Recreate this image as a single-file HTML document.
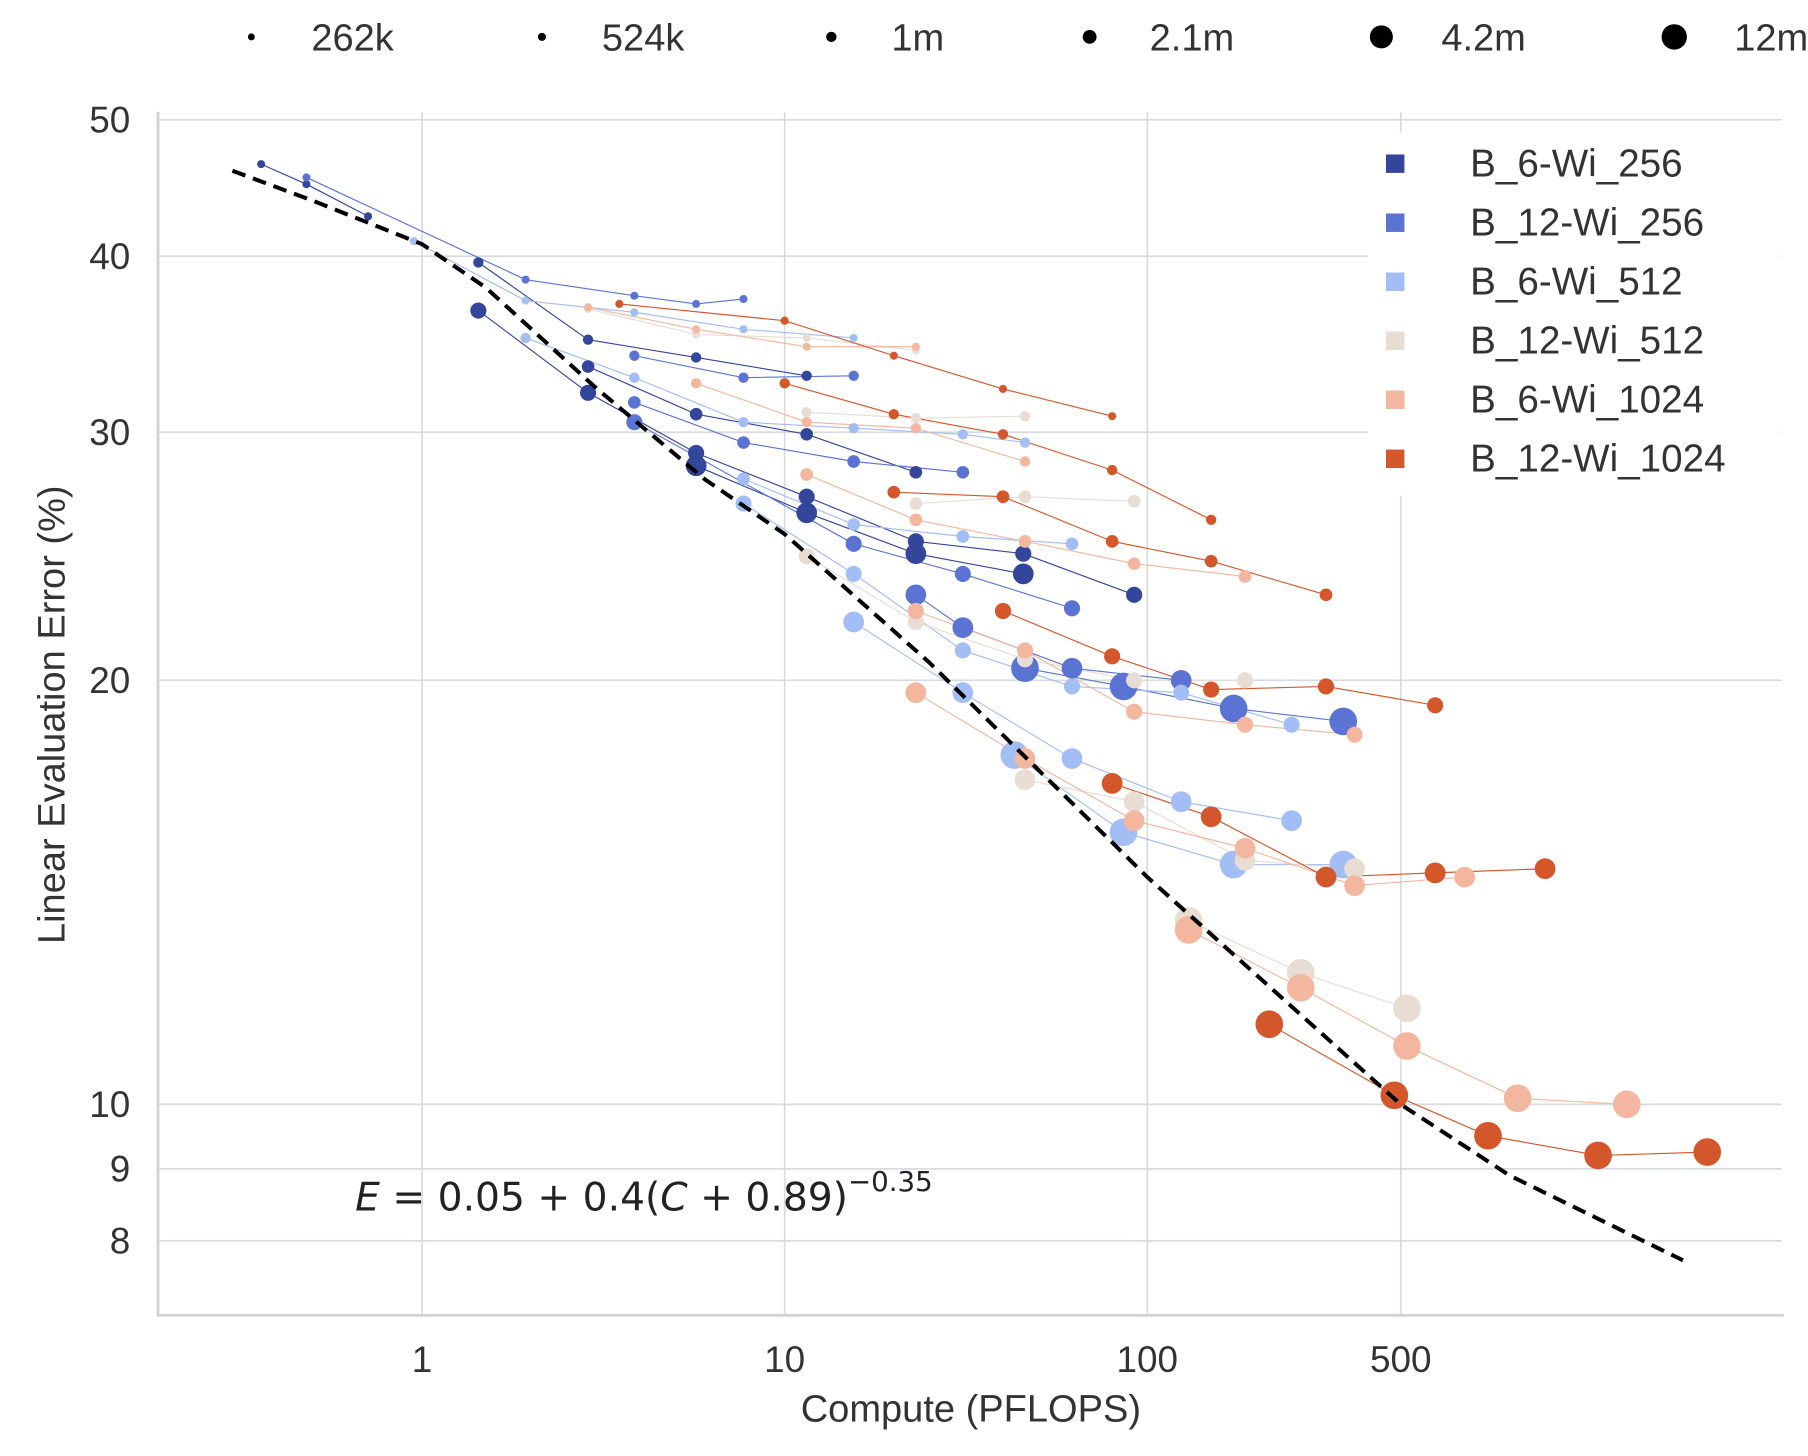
<!DOCTYPE html>
<html><head><meta charset="utf-8"><style>
html,body{margin:0;padding:0;background:#fff;}
svg{display:block;font-family:"Liberation Sans","DejaVu Sans",sans-serif;}
</style></head><body>
<svg id="chart" width="1808" height="1456" viewBox="0 0 1568 1263" preserveAspectRatio="none" xmlns="http://www.w3.org/2000/svg">
<g id="grid"></g>
<g id="marks"></g>
<g id="axes"></g>
<g id="legends"></g>
</svg>
<script>
const xTicks = [1, 10, 100, 500];
const xTickLabels = ["1", "10", "100", "500"];
const yTicks = [50, 40, 30, 20, 10, 9, 8];
const yTickLabels = ["50", "40", "30", "20", "10", "9", "8"];
const sizeLabels = ["262k", "524k", "1m", "2.1m", "4.2m", "12m"];
const seriesNames = ["B_6-Wi_256", "B_12-Wi_256", "B_6-Wi_512", "B_12-Wi_512", "B_6-Wi_1024", "B_12-Wi_1024"];
const seriesColors = ["#34469c", "#5b74d3", "#a3bdf5", "#e8ddd3", "#f2b79e", "#d4562b"];
const fitC = [0.30, 0.5, 1, 1.5, 3, 6, 10, 25, 100, 500, 1000, 3000];
const fitE = [46, 43.8, 40.8, 38, 32.3, 27.8, 25.4, 20.6, 14.5, 10.0, 8.9, 7.75];
// each line: [sizeIndex, [[compute, error], ...]]
const s0 = [
 [0, [[0.36,46.5],[0.48,45],[0.71,42.7]]],
 [1, [[1.43,39.6],[2.87,34.9],[5.7,33.9],[11.5,32.9]]],
 [2, [[2.87,33.4],[5.7,30.9],[11.5,29.9],[23,28.1]]],
 [3, [[1.43,36.6],[2.87,32],[5.7,29],[11.5,27],[23,25.1],[45.5,24.6],[92,23]]],
 [4, [[5.7,28.4],[11.5,26.3],[23,24.6],[45.5,23.8]]]
];
const s1 = [
 [0, [[0.48,45.5],[1.93,38.5],[3.85,37.5],[5.7,37],[7.7,37.3]]],
 [1, [[3.85,34],[7.7,32.8],[15.5,32.9]]],
 [2, [[3.85,31.5],[7.7,29.5],[15.5,28.6],[31,28.1]]],
 [3, [[3.85,30.5],[15.5,25],[31,23.8],[62,22.5]]],
 [4, [[23,23],[31,21.8],[62,20.4],[124,20]]],
 [5, [[46,20.4],[86,19.8],[173,19.1],[347,18.7]]]
];
const s2 = [
 [0, [[0.95,41],[1.93,37.2],[3.85,36.5],[7.7,35.5],[15.5,35]]],
 [1, [[1.93,35],[3.85,32.8],[7.7,30.5],[15.5,30.2],[31,29.9],[46,29.5]]],
 [2, [[7.7,27.8],[15.5,25.8],[31,25.3],[62,25]]],
 [3, [[7.7,26.7],[15.5,23.8],[31,21],[62,19.8],[124,19.6],[250,18.6]]],
 [4, [[15.5,22],[31,19.6],[62,17.6],[124,16.4],[250,15.9]]],
 [5, [[43,17.7],[86,15.6],[173,14.8],[347,14.8]]]
];
const s3 = [
 [0, [[2.87,36.7],[5.7,35.2],[11.5,35],[23,34.3]]],
 [1, [[11.5,31],[23,30.7],[46,30.8]]],
 [2, [[23,26.7],[46,27],[92,26.8]]],
 [3, [[11.5,24.5],[23,22],[46,20.7],[92,20.0],[186,20.0]]],
 [4, [[46,17],[92,16.4],[186,14.9],[373,14.7]]],
 [5, [[130,13.5],[265,12.4],[520,11.7]]]
];
const s4 = [
 [0, [[2.87,36.8],[5.7,35.5],[11.5,34.5],[23,34.5]]],
 [1, [[5.7,32.5],[11.5,30.5],[23,30.2],[46,28.6]]],
 [2, [[11.5,28],[23,26],[46,25.1],[92,24.2],[186,23.7]]],
 [3, [[23,22.4],[46,21],[92,19],[186,18.6],[373,18.3]]],
 [4, [[23,19.6],[46,17.6],[92,15.9],[186,15.2],[373,14.3],[750,14.5]]],
 [5, [[130,13.3],[265,12.1],[520,11],[1050,10.1],[2100,10.0]]]
];
const s5 = [
 [0, [[3.5,37],[10,36],[20,34],[40,32.2],[80,30.8]]],
 [1, [[10,32.5],[20,30.9],[40,29.9],[80,28.2],[150,26]]],
 [2, [[20,27.2],[40,27],[80,25.1],[150,24.3],[311,23]]],
 [3, [[40,22.4],[80,20.8],[150,19.7],[311,19.8],[622,19.2]]],
 [4, [[80,16.9],[150,16],[311,14.5],[622,14.6],[1250,14.7]]],
 [5, [[217,11.4],[480,10.15],[870,9.5],[1750,9.2],[3500,9.25]]]
];
const allSeries = [s0, s1, s2, s3, s4, s5];

const NS = "http://www.w3.org/2000/svg";
const X = c => 366 + Math.log10(c) * 314.5;
const Y = e => 958 - Math.log10(e / 10) * 1222;
const R = [3.5, 4.5, 5.5, 7, 9, 12];
function mk(tag, attrs, parent, text) {
  const el = document.createElementNS(NS, tag);
  for (const k in attrs) el.setAttribute(k, attrs[k]);
  if (text !== undefined) el.textContent = text;
  parent.appendChild(el);
  return el;
}
const grid = document.getElementById("grid");
const marks = document.getElementById("marks");
const axes = document.getElementById("axes");
const legends = document.getElementById("legends");

yTicks.forEach((t, i) => {
  const l = mk("line", {x1:137, x2:1545, y1:Y(t), y2:Y(t), stroke:"#d8dbe0", "stroke-width":1.5}, grid);
  
  
  const tx = mk("text", {x:113, y:Y(t)+11, "text-anchor":"end", "font-size":32, fill:"#333"}, axes, yTickLabels[i]);
  
  
});
xTicks.forEach((t, i) => {
  const l = mk("line", {x1:X(t), x2:X(t), y1:97, y2:1140, stroke:"#d8dbe0", "stroke-width":1.5}, grid);
  
  
  const tx = mk("text", {x:X(t), y:1190, "text-anchor":"middle", "font-size":32, fill:"#333"}, axes, xTickLabels[i]);
  
  
});
let a = mk("line", {x1:137, x2:137, y1:97, y2:1141, stroke:"#d0d3d8", "stroke-width":2.5}, axes);


a = mk("line", {x1:136, x2:1547, y1:1141, y2:1141, stroke:"#d0d3d8", "stroke-width":2.5}, axes);


a = mk("text", {x:842, y:1233, "text-anchor":"middle", "font-size":33, fill:"#333"}, axes, "Compute (PFLOPS)");


a = mk("text", {x:0, y:0, "text-anchor":"middle", "font-size":33, fill:"#333", transform:"translate(56,620) rotate(-90)"}, axes, "Linear Evaluation Error (%)");



allSeries.forEach((ser, si) => {
  ser.forEach(line => {
    const pts = line[1].map(p => X(p[0]) + "," + Y(p[1])).join(" ");
    const pl = mk("polyline", {points:pts, fill:"none", stroke:seriesColors[si], "stroke-width":1}, marks);
    
    
  });
});
allSeries.forEach((ser, si) => {
  ser.forEach(line => {
    line[1].forEach(p => {
      const c = mk("circle", {cx:X(p[0]), cy:Y(p[1]), r:R[line[0]], fill:seriesColors[si]}, marks);
      
      
    });
  });
});
const fit = mk("polyline", {points:fitC.map((c,i)=>X(c)+","+Y(fitE[i])).join(" "), fill:"none", stroke:"#000", "stroke-width":3.5, "stroke-dasharray":"12 7"}, marks);


const eq = mk("text", {x:308, y:1050, "font-size":34, fill:"#222", "font-family":"DejaVu Sans, sans-serif"}, marks);
eq.innerHTML = '<tspan font-style="italic">E</tspan> = 0.05 + 0.4(<tspan font-style="italic">C</tspan> + 0.89)<tspan dy="-17" font-size="24">−0.35</tspan>';



const box = mk("rect", {x:1186, y:115, width:358, height:315, fill:"#fff"}, legends);


seriesNames.forEach((n, i) => {
  const y = 142 + i * 51.2;
  const s = mk("rect", {x:1202, y:y-8, width:16, height:16, fill:seriesColors[i]}, legends);
  
  
  const t = mk("text", {x:1275, y:y+11, "font-size":33.5, fill:"#333"}, legends, n);
  
  
});
const sx = [218, 470, 721, 945, 1198, 1452];
const sr = [3, 3.5, 4.5, 6, 10, 11];
sizeLabels.forEach((n, i) => {
  const c = mk("circle", {cx:sx[i], cy:32, r:sr[i], fill:"#000"}, legends);
  
  
  const t = mk("text", {x:sx[i]+52, y:44, "font-size":33, fill:"#333"}, legends, n);
  
  
});
</script>
</body></html>
